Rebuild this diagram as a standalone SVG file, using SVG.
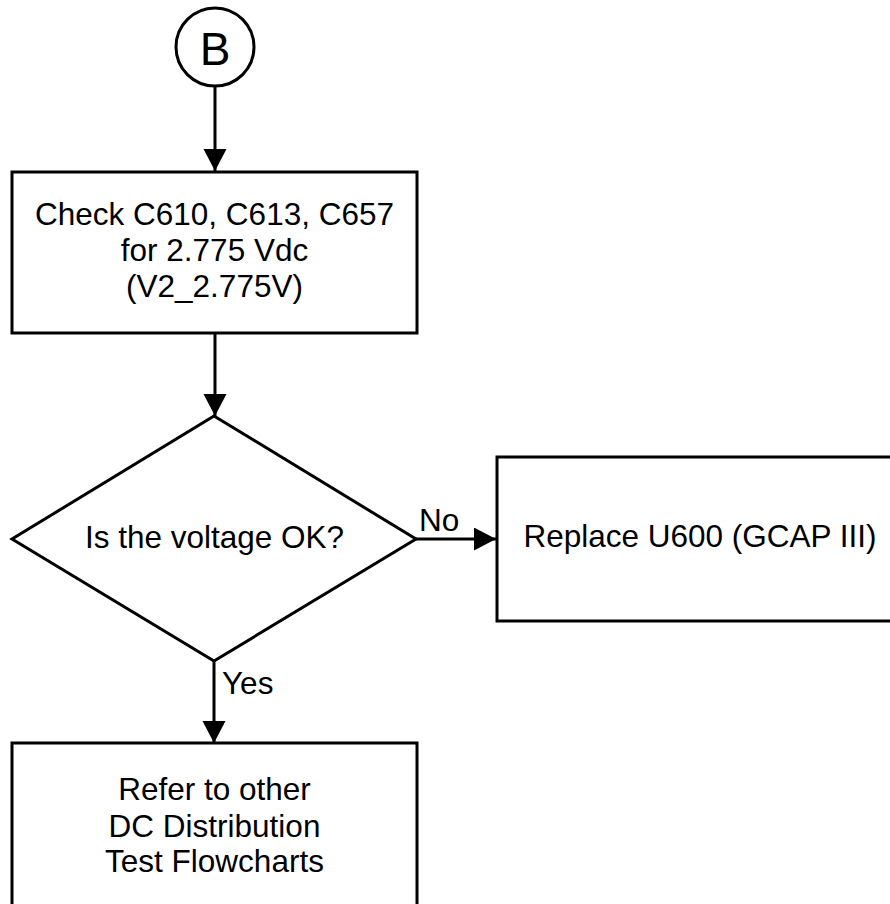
<svg xmlns="http://www.w3.org/2000/svg" width="890" height="904" viewBox="0 0 890 904">
<style>
.shape{fill:#fff;stroke:#000;stroke-width:3}
.line{fill:none;stroke:#000;stroke-width:3;marker-end:url(#ah)}
text{font-family:"Liberation Sans",Arial,sans-serif;font-size:31.5px;fill:#000}
.c{text-anchor:middle}
</style>
<defs>
<marker id="ah" markerUnits="userSpaceOnUse" markerWidth="24" markerHeight="24" refX="22" refY="11.5" orient="auto">
<path d="M0,0 L22,11.5 L0,23 z" fill="#000"/>
</marker>
</defs>
<rect width="890" height="904" fill="#fff"/>
<g id="connectors">
<line class="line" x1="215" y1="87" x2="215" y2="171"/>
<line class="line" x1="215" y1="334" x2="215" y2="416"/>
<line class="line" x1="416" y1="539" x2="496" y2="539"/>
<line class="line" x1="214" y1="661" x2="214" y2="743"/>
<text x="419" y="531">No</text>
<text x="222" y="694">Yes</text>
</g>
<g id="start-B">
<circle class="shape" cx="215" cy="47" r="39"/>
<text class="c" x="215" y="65" style="font-size:46px">B</text>
</g>
<g id="check">
<rect class="shape" x="12" y="172" width="405" height="161"/>
<text class="c" x="214.5" y="225">Check C610, C613, C657</text>
<text class="c" x="214.5" y="261">for 2.775 Vdc</text>
<text class="c" x="214.5" y="297">(V2_2.775V)</text>
</g>
<g id="decision">
<polygon class="shape" points="214,416 416,539 214,661 12,539"/>
<text class="c" x="214.5" y="548">Is the voltage OK?</text>
</g>
<g id="replace">
<rect class="shape" x="497" y="457" width="410" height="164"/>
<text class="c" x="700" y="547">Replace U600 (GCAP III)</text>
</g>
<g id="refer">
<rect class="shape" x="12" y="743" width="405" height="175"/>
<text class="c" x="214.5" y="800">Refer to other</text>
<text class="c" x="214.5" y="837">DC Distribution</text>
<text class="c" x="214.5" y="872">Test Flowcharts</text>
</g>
</svg>
